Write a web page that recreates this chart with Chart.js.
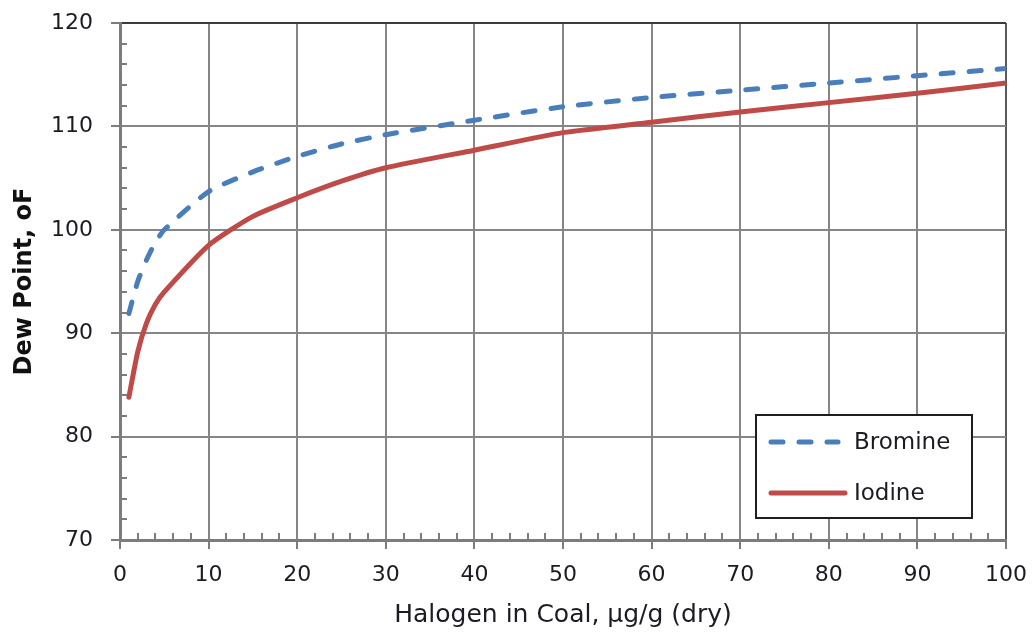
<!DOCTYPE html>
<html lang="en">
<head>
    <meta charset="UTF-8">
    <title>Dew Point vs Halogen in Coal</title>
    <script src="https://cdn.jsdelivr.net/npm/chart.js"></script>
    <style>
        html, body {
            margin: 0;
            padding: 0;
            background: #ffffff;
        }
        #wrap {
            width: 1033px;
            height: 632px;
        }
    </style>
</head>
<body>
    <div id="wrap"><canvas id="dewChart"></canvas></div>

    <script>
        // halogen content, ug/g (dry)
        const halogen = [1, 2, 3, 4, 5, 10, 15, 20, 25, 30, 40, 50, 60, 70, 80, 90, 100];
        // dew point, oF
        const bromine = [91.9, 95.0, 97.1, 98.8, 100.0, 103.7, 105.6, 107.1, 108.3, 109.2, 110.6, 111.9, 112.8, 113.5, 114.2, 114.9, 115.6];
        const iodine = [83.8, 88.2, 91.0, 92.8, 94.0, 98.5, 101.3, 103.1, 104.7, 106.0, 107.7, 109.4, 110.4, 111.4, 112.3, 113.2, 114.2];

        const seriesNames = ['Bromine', 'Iodine'];

        const toPoints = (ys) => halogen.map((x, i) => ({ x: x, y: ys[i] }));

        const FONT = "'DejaVu Sans', Verdana, sans-serif";
        const TEXT = '#1b1b24';
        const GRID = '#868686';
        const AXIS = '#7c7c7c';

        // small inner ticks every 2 units, plus the legend box in the lower right
        const extras = {
            id: 'extras',
            afterDraw(chart) {
                const ctx = chart.ctx;
                const xs = chart.scales.x;
                const ys = chart.scales.y;
                const area = chart.chartArea;

                ctx.save();
                ctx.strokeStyle = AXIS;
                ctx.lineWidth = 2;
                ctx.beginPath();
                for (let v = 2; v < 100; v += 2) {
                    if (v % 10 === 0) continue;
                    const px = Math.round(xs.getPixelForValue(v));
                    ctx.moveTo(px, area.bottom);
                    ctx.lineTo(px, area.bottom - 7);
                }
                for (let v = 72; v < 120; v += 2) {
                    if (v % 10 === 0) continue;
                    const py = Math.round(ys.getPixelForValue(v));
                    ctx.moveTo(area.left, py);
                    ctx.lineTo(area.left + 7, py);
                }
                ctx.stroke();

                // legend
                const bx = area.right - 250;
                const by = area.bottom - 125;
                const bw = 216;
                const bh = 103;
                ctx.fillStyle = '#ffffff';
                ctx.fillRect(bx, by, bw, bh);
                ctx.strokeStyle = '#1e1e1e';
                ctx.lineWidth = 2;
                ctx.strokeRect(bx, by, bw, bh);

                const rows = [by + 27, by + 78];
                chart.data.datasets.forEach((ds, i) => {
                    const y = rows[i];
                    ctx.strokeStyle = ds.borderColor;
                    ctx.lineWidth = ds.borderWidth;
                    ctx.lineCap = ds.borderCapStyle || 'butt';
                    ctx.setLineDash(ds.borderDash || []);
                    ctx.beginPath();
                    ctx.moveTo(bx + 15, y);
                    ctx.lineTo(bx + (ds.borderDash ? 82 : 89), y);
                    ctx.stroke();
                    ctx.setLineDash([]);

                    ctx.fillStyle = TEXT;
                    ctx.font = '23px ' + FONT;
                    ctx.textBaseline = 'middle';
                    ctx.textAlign = 'left';
                    ctx.fillText(ds.label, bx + 98, y + 1);
                });
                ctx.restore();
            }
        };

        const edgeColor = (max, dark) => (c) => (c.tick && c.tick.value === max ? dark : GRID);

        new Chart(document.getElementById('dewChart').getContext('2d'), {
            type: 'line',
            data: {
                datasets: [{
                    label: seriesNames[0],
                    data: toPoints(bromine),
                    borderColor: '#4a7ebb',
                    borderWidth: 5,
                    borderDash: [12, 16],
                    borderCapStyle: 'round',
                    borderJoinStyle: 'round',
                    pointRadius: 0,
                    tension: 0.2,
                    fill: false
                }, {
                    label: seriesNames[1],
                    data: toPoints(iodine),
                    borderColor: '#be4b48',
                    borderWidth: 5,
                    borderCapStyle: 'round',
                    borderJoinStyle: 'round',
                    pointRadius: 0,
                    tension: 0.2,
                    fill: false
                }]
            },
            options: {
                responsive: true,
                maintainAspectRatio: false,
                animation: false,
                layout: {
                    padding: { top: 23, right: 27, left: 0, bottom: 0 }
                },
                plugins: {
                    legend: { display: false },
                    tooltip: { enabled: false }
                },
                scales: {
                    x: {
                        type: 'linear',
                        min: 0,
                        max: 100,
                        ticks: {
                            stepSize: 10,
                            color: TEXT,
                            font: { family: FONT, size: 22 },
                            padding: 13
                        },
                        grid: {
                            color: edgeColor(100, '#5a5a5a'),
                            lineWidth: 2,
                            tickColor: AXIS,
                            tickLength: 9,
                            tickWidth: 2
                        },
                        border: { color: AXIS, width: 3 },
                        title: {
                            display: true,
                            text: 'Halogen in Coal, µg/g (dry)',
                            color: TEXT,
                            font: { family: FONT, size: 25 },
                            padding: { top: 0, bottom: 2 }
                        },
                        afterFit(scale) {
                            scale.height = 92;
                            scale.paddingLeft = 0;
                            scale.paddingRight = 0;
                        }
                    },
                    y: {
                        min: 70,
                        max: 120,
                        ticks: {
                            stepSize: 10,
                            color: TEXT,
                            font: { family: FONT, size: 22 },
                            padding: 18
                        },
                        grid: {
                            color: edgeColor(120, '#3c3c3c'),
                            lineWidth: 2,
                            tickColor: AXIS,
                            tickLength: 9,
                            tickWidth: 2
                        },
                        border: { color: AXIS, width: 3 },
                        title: {
                            display: true,
                            text: 'Dew Point, oF',
                            color: '#111111',
                            font: { family: FONT, size: 24, weight: 'bold' },
                            padding: { top: 10, bottom: 4 }
                        },
                        afterFit(scale) {
                            scale.width = 120;
                            scale.paddingTop = 0;
                            scale.paddingBottom = 0;
                        }
                    }
                }
            },
            plugins: [extras]
        });
    </script>
</body>
</html>
